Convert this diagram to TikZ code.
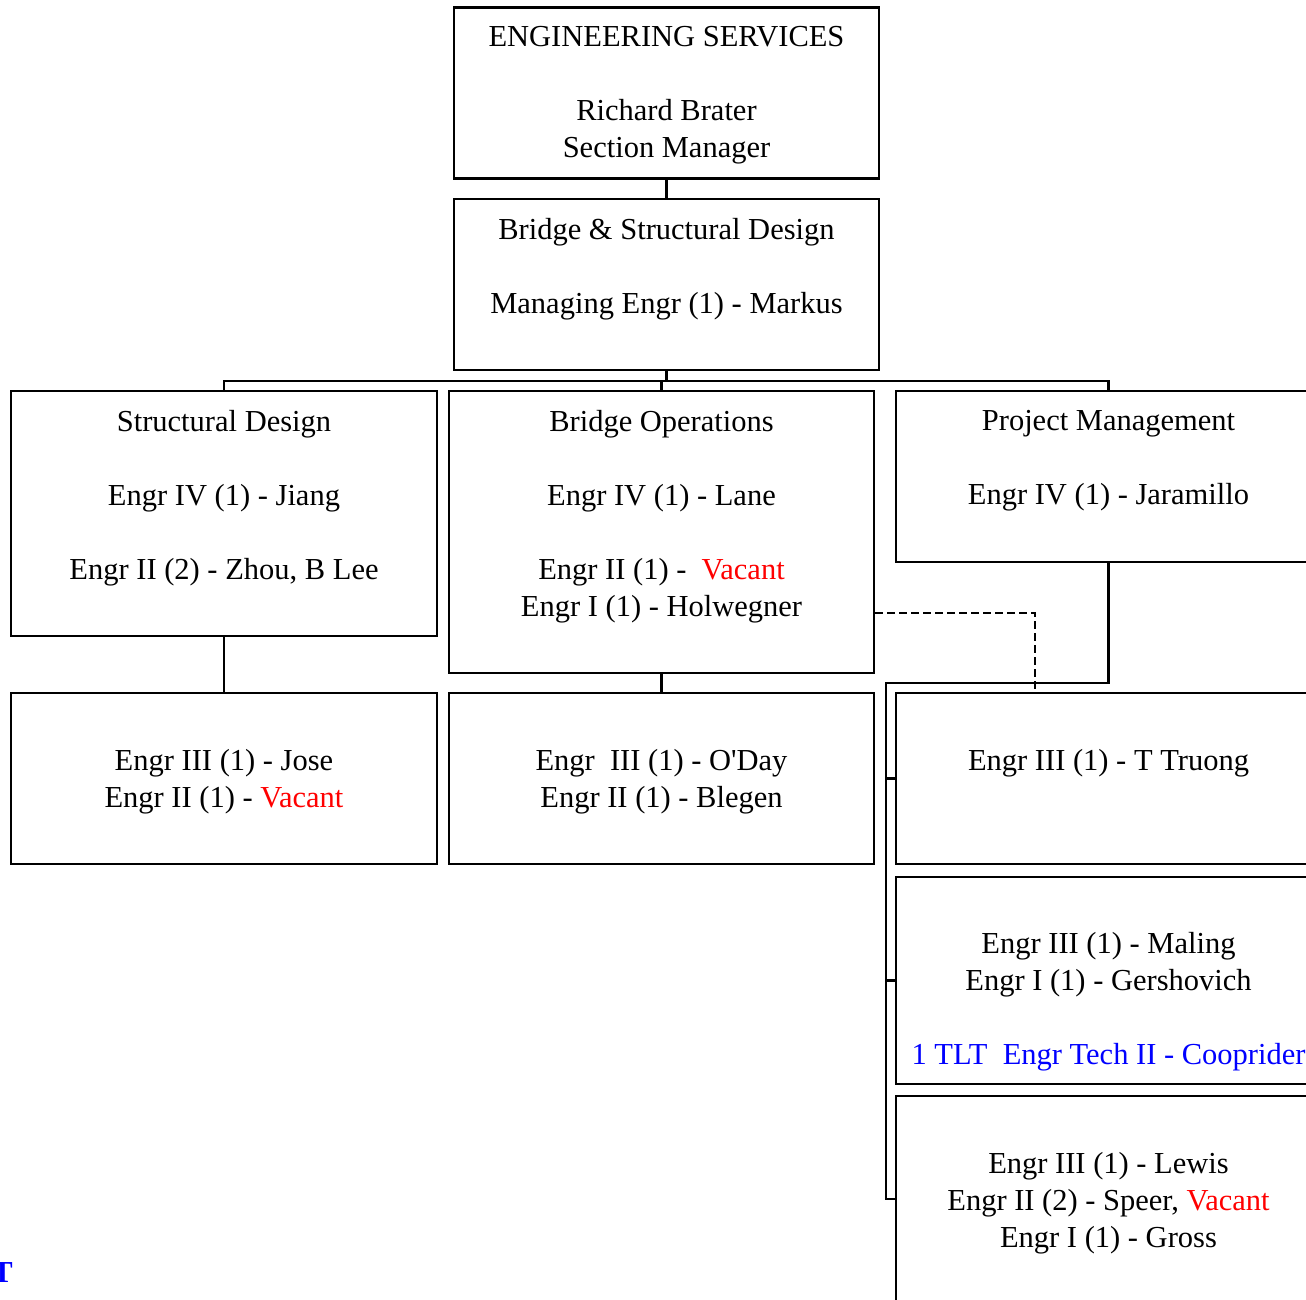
\documentclass[tikz,border=0pt]{standalone}
\usepackage{fontspec}
\setmainfont{Liberation Serif}[Ligatures=TeXOff]
\usepackage{xcolor}
\usepackage{tikz}
\usetikzlibrary{positioning}

\newcommand{\fsz}{\fontsize{30.5}{37}\selectfont}
\newcommand{\vac}{\textcolor{red}{Vacant}}

\tikzset{
  orgbox/.style={draw, line width=2.6pt, inner sep=0pt, minimum width=425, minimum height=171},
  txt/.style={anchor=north, align=center, inner sep=0pt, font=\fsz, execute at begin node=\strut},
  link/.style={line width=2.6pt},
  dashlink/.style={line width=2.2pt, dash pattern=on 8pt off 4pt}
}

\begin{document}
\begin{tikzpicture}[x=1pt,y=-1pt]
        \clip (0,0) rectangle (1306,1300);
        \fill[white] (0,0) rectangle (1306,1300);
        % Boxes
        \node[orgbox] (es)  at (666.5,93)    {};
        \node[orgbox] (bsd) at (666.5,284.5) {};
        \node[orgbox, minimum width=426, minimum height=245] (sd) at (224,513.5) {};
        \node[orgbox, minimum height=282] (bo)  at (661.5,532)   {};
        \node[orgbox] (pm)  at (1108.5,476.5) {};
        \node[orgbox, minimum width=426] (jose) at (224,778.5) {};
        \node[orgbox] (oday)   at (661.5,778.5) {};
        \node[orgbox] (truong) at (1108.5,778.5) {};
        \node[orgbox, minimum height=207] (maling) at (1108.5,980.5) {};
        \node[orgbox, minimum height=206] (lewis)  at (1108.5,1199) {};
        % Texts
        \node[txt] (es-t)  at ([yshift=-20pt]es.north)  {ENGINEERING SERVICES\\ \strut\\ Richard Brater\\ Section Manager};
        \node[txt] (bsd-t) at ([yshift=-20pt]bsd.north) {Bridge \& Structural Design\\ \strut\\ Managing Engr (1) - Markus};
        \node[txt] (sd-t)  at ([yshift=-20pt]sd.north)  {Structural Design\\ \strut\\ Engr IV (1) - Jiang\\ \strut\\ Engr II (2) - Zhou, B Lee};
        \node[txt] (bo-t)  at ([yshift=-20pt]bo.north)  {Bridge Operations\\ \strut\\ Engr IV (1) - Lane\\ \strut\\ Engr II (1) -~ \vac\\ Engr I (1) - Holwegner};
        \node[txt] (pm-t)  at ([yshift=-20pt]pm.north)  {Project Management\\ \strut\\ Engr IV (1) - Jaramillo};
        \node[txt] (jose-t)   at ([yshift=-16pt]jose.north)   {\strut\\ Engr III (1) - Jose\\ Engr II (1) - \vac};
        \node[txt] (oday-t)   at ([yshift=-16pt]oday.north)   {\strut\\ Engr~ III (1) - O'Day\\ Engr II (1) - Blegen};
        \node[txt] (truong-t) at ([yshift=-16pt]truong.north) {\strut\\ Engr III (1) - T Truong};
        \node[txt] (maling-t) at ([yshift=-15pt]maling.north) {\strut\\ Engr III (1) - Maling\\ Engr I (1) - Gershovich\\ \strut\\ \textcolor{blue}{1 TLT~ Engr Tech II - Cooprider}};
        \node[txt] (lewis-t)  at ([yshift=-16pt]lewis.north)  {\strut\\ Engr III (1) - Lewis\\ Engr II (2) - Speer, \vac\\ Engr I (1) - Gross};
        \node[anchor=base east, inner sep=0pt, font=\fsz\bfseries, text=blue] (tlt) at (13,1282) {T};
        % Connectors
        \coordinate (bus) at (666.5,381);
        \coordinate (rail) at (886,683);
        \coordinate (dsh) at (1035,613);
        \draw[link] (es) -- (bsd);
        \draw[link] (bsd.south) -- (bsd.south |- bus);
        \draw[link] (sd.north) |- (bus) -| (pm.north);
        \draw[link] (bo.north) -- (bo.north |- bus);
        \draw[link] (sd) -- (jose);
        \draw[link] (bo) -- (oday);
        \draw[link] (pm.south) |- (rail) |- (lewis.west);
        \draw[link] (rail |- truong.west) -- (truong.west);
        \draw[link] (rail |- maling.west) -- (maling.west);
        \draw[dashlink] (bo.east |- dsh) -- (dsh) -- (dsh |- truong.north);
    \end{tikzpicture}
\end{document}
